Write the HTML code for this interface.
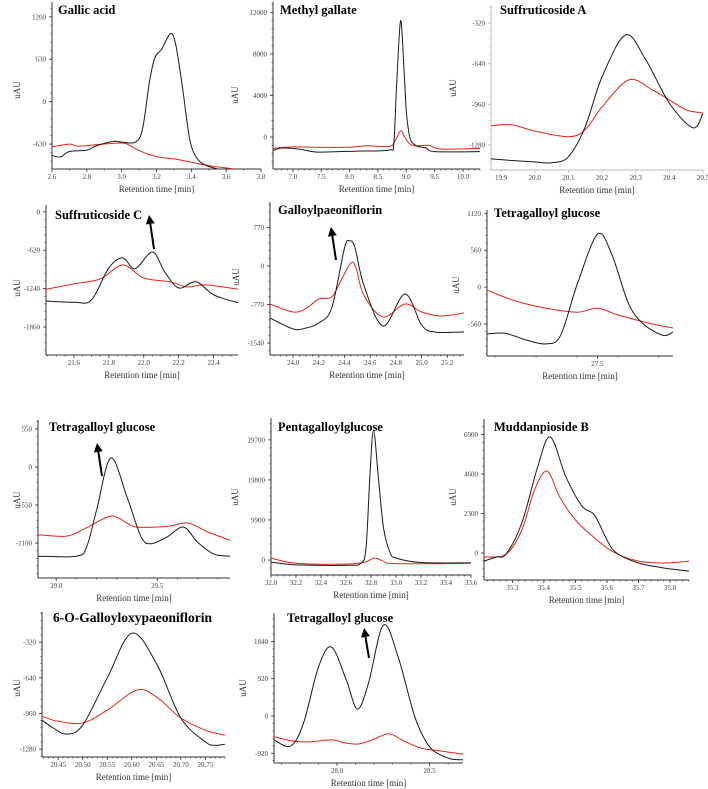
<!DOCTYPE html>
<html><head><meta charset="utf-8">
<style>
html,body{margin:0;padding:0;background:#fff;}
svg{display:block;font-family:"Liberation Serif",serif;}
</style></head>
<body>
<svg id="fig" width="708" height="789" viewBox="0 0 708 789" xmlns="http://www.w3.org/2000/svg"></svg>
<script>
// ---- data (retention time [min], uAU) ----
const p1Black=[[2.6,-800],[2.65,-820],[2.7,-740],[2.8,-720],[2.85,-660],[2.95,-590],[3.0,-600],[3.08,-600],[3.12,-400],[3.16,300],[3.19,650],[3.23,780],[3.28,1010],[3.31,850],[3.35,200],[3.39,-550],[3.43,-830],[3.48,-940],[3.55,-1000]];
const p1Red=[[2.6,-670],[2.7,-630],[2.75,-660],[2.85,-640],[2.95,-620],[3.02,-620],[3.08,-700],[3.15,-780],[3.22,-825],[3.3,-850],[3.4,-900],[3.5,-950],[3.65,-1000]];
const p2Black=[[6.65,-1300],[6.8,-1060],[7.1,-1150],[7.4,-1440],[7.8,-1400],[8.2,-1350],[8.7,-1250],[8.78,-600],[8.83,5000],[8.9,11200],[8.96,6500],[9.0,2500],[9.05,300],[9.1,-500],[9.2,-900],[9.35,-1050],[9.5,-1400],[10.3,-1400]];
const p2Red=[[6.65,-1100],[7.0,-950],[7.5,-1000],[8.0,-980],[8.3,-850],[8.7,-900],[8.8,-400],[8.9,600],[8.97,0],[9.05,-600],[9.15,-850],[9.4,-800],[9.6,-1150],[10.3,-1100]];
const p3Black=[[19.87,-1390],[19.95,-1405],[20.0,-1413],[20.05,-1420],[20.1,-1373],[20.15,-1137],[20.2,-745],[20.27,-414],[20.33,-610],[20.4,-950],[20.47,-1145],[20.5,-1030]];
const p3Red=[[19.87,-1130],[19.93,-1120],[20.0,-1170],[20.1,-1215],[20.15,-1160],[20.2,-980],[20.28,-768],[20.35,-847],[20.4,-925],[20.45,-1004],[20.5,-1028]];
const p4Black=[[21.44,-1440],[21.6,-1460],[21.7,-1425],[21.8,-906],[21.88,-745],[21.95,-920],[22.05,-650],[22.12,-970],[22.2,-1230],[22.3,-1130],[22.4,-1340],[22.54,-1470]];
const p4Red=[[21.44,-1250],[21.6,-1165],[21.75,-1085],[21.88,-860],[22.0,-1070],[22.15,-1130],[22.25,-1215],[22.35,-1180],[22.54,-1250]];
const p5Black=[[23.82,-1040],[24.0,-1260],[24.1,-1240],[24.2,-1140],[24.3,-840],[24.4,360],[24.44,500],[24.48,380],[24.55,-380],[24.7,-1200],[24.87,-560],[25.0,-1180],[25.1,-1320],[25.33,-1320]];
const p5Red=[[23.82,-760],[24.0,-920],[24.1,-850],[24.2,-660],[24.3,-620],[24.37,-300],[24.45,60],[24.49,-40],[24.55,-580],[24.7,-1020],[24.87,-760],[25.0,-920],[25.15,-1000],[25.33,-940]];
const p6Black=[[26.96,-710],[27.05,-700],[27.15,-800],[27.25,-860],[27.32,-730],[27.4,30],[27.5,800],[27.57,500],[27.65,-230],[27.72,-545],[27.82,-730],[27.87,-680]];
const p6Red=[[26.96,-45],[27.1,-210],[27.25,-320],[27.4,-380],[27.5,-320],[27.6,-420],[27.75,-545],[27.87,-620]];
const p7Black=[[28.91,-1290],[29.1,-1290],[29.15,-1160],[29.2,-620],[29.27,130],[29.35,-430],[29.42,-1010],[29.47,-1110],[29.55,-1010],[29.63,-870],[29.7,-1090],[29.78,-1260],[29.86,-1290]];
const p7Red=[[28.91,-980],[29.05,-1000],[29.15,-880],[29.27,-710],[29.35,-810],[29.4,-870],[29.55,-860],[29.65,-810],[29.75,-940],[29.86,-1060]];
const p8Black=[[32.0,-500],[32.2,-1200],[32.6,-1300],[32.72,-800],[32.76,3000],[32.79,20000],[32.82,32000],[32.86,20000],[32.9,8000],[32.95,2000],[33.0,500],[33.2,-600],[33.6,-700]];
const p8Red=[[32.0,500],[32.2,-800],[32.6,-1000],[32.75,-500],[32.83,500],[32.9,-300],[33.0,-900],[33.6,-800]];
const p9Black=[[35.21,-470],[35.25,-230],[35.28,-60],[35.33,1750],[35.38,5000],[35.42,6750],[35.47,4420],[35.52,2740],[35.56,2210],[35.6,760],[35.63,0],[35.7,-580],[35.78,-870],[35.86,-1050]];
const p9Red=[[35.21,-230],[35.28,-60],[35.33,1340],[35.37,3670],[35.41,4770],[35.45,3260],[35.5,1920],[35.55,1050],[35.62,60],[35.7,-470],[35.78,-580],[35.86,-470]];
const p10Black=[[20.417,-1020],[20.44,-1090],[20.467,-1145],[20.5,-1065],[20.55,-640],[20.6,-240],[20.65,-510],[20.7,-1000],[20.75,-1215],[20.77,-1245],[20.79,-1235]];
const p10Red=[[20.417,-985],[20.45,-1030],[20.5,-1045],[20.55,-930],[20.61,-750],[20.65,-810],[20.7,-1000],[20.75,-1110],[20.79,-1155]];
const p11Black=[[27.66,-590],[27.75,-740],[27.82,-170],[27.9,1210],[27.97,1700],[28.05,890],[28.11,170],[28.17,810],[28.25,2240],[28.33,1460],[28.42,-20],[28.5,-760],[28.6,-1040],[28.68,-1080]];
const p11Red=[[27.66,-510],[27.75,-610],[27.85,-640],[27.97,-590],[28.05,-670],[28.12,-690],[28.2,-570],[28.28,-440],[28.35,-590],[28.45,-790],[28.55,-860],[28.68,-940]];

// tick label arrays
const p1XTicks=[2.6,2.8,3.0,3.2,3.4,3.6,3.8], p1YTicks=[1260,630,0,-630];
const p2XTicks=[7.0,7.5,8.0,8.5,9.0,9.5,10.0], p2YTicks=[12000,8000,4000,0];
const p3XTicks=[19.9,20.0,20.1,20.2,20.3,20.4,20.5], p3YTicks=[-320,-640,-960,-1280];
const p4XTicks=[21.6,21.8,22.0,22.2,22.4], p4YTicks=[0,-620,-1240,-1860];
const p5XTicks=[24.0,24.2,24.4,24.6,24.8,25.0,25.2], p5YTicks=[770,0,-770,-1540];
const p6XTicks=[27.5], p6YTicks=[1120,560,0,-560];
const p7XTicks=[29.0,29.5], p7YTicks=[550,0,-550,-1100];
const p8XTicks=[32.0,32.2,32.4,32.6,32.8,33.0,33.2,33.4,33.6], p8YTicks=[29700,19800,9900,0];
const p9XTicks=[35.3,35.4,35.5,35.6,35.7,35.8], p9YTicks=[6900,4600,2300,0];
const p10XTicks=[20.45,20.50,20.55,20.60,20.65,20.70,20.75], p10YTicks=[-320,-640,-960,-1280];
const p11XTicks=[28.0,28.5], p11YTicks=[1840,920,0,-920];

const NS="http://www.w3.org/2000/svg";
const svg=document.getElementById('fig');
function mk(tag,attrs,parent){const e=document.createElementNS(NS,tag);for(const k in attrs)e.setAttribute(k,attrs[k]);(parent||svg).appendChild(e);return e;}
function fmt(v,dec){return dec?v.toFixed(dec):String(v);}

const panels=[
 {id:'gallic-acid',title:'Gallic acid',l:52,r:261,t:2,b:169,x0:2.6,x1:3.8,y0:-1000,y1:1480,xt:p1XTicks,yt:p1YTicks,xd:1,xm:0.1,black:p1Black,red:p1Red,tx:58,ty:14,ux:20,uy:90},
 {id:'methyl-gallate',title:'Methyl gallate',l:273,r:480,t:2,b:169,x0:6.65,x1:10.3,y0:-3080,y1:13000,xt:p2XTicks,yt:p2YTicks,xd:1,xm:0.1,black:p2Black,red:p2Red,tx:280,ty:14,ux:238,uy:95,xfit:[7.0,293,10.0,463]},
 {id:'suffruticoside-a',title:'Suffruticoside A',l:491,r:703,t:5,b:170,x0:19.87,x1:20.5,y0:-1477,y1:-178,xt:p3XTicks,yt:p3YTicks,xd:1,xm:0.1,black:p3Black,red:p3Red,tx:500,ty:14,ux:456,uy:88,noaxis:true},
 {id:'suffruticoside-c',title:'Suffruticoside C',l:46,r:238,t:205,b:355,x0:21.44,x1:22.54,y0:-2313,y1:110,xt:p4XTicks,yt:p4YTicks,xd:1,xm:0.05,black:p4Black,red:p4Red,tx:55,ty:219,ux:20,uy:288,arrow:[154,249,149,215]},
 {id:'galloylpaeoniflorin',title:'Galloylpaeoniflorin',l:270,r:464,t:202,b:355,x0:23.82,x1:25.33,y0:-1780,y1:1280,xt:p5XTicks,yt:p5YTicks,xd:1,xm:0.05,black:p5Black,red:p5Red,tx:278,ty:214,ux:239,uy:277,arrow:[336,260,331,227]},
 {id:'tetragalloyl-glucose-1',title:'Tetragalloyl glucose',l:487,r:673,t:210,b:356,x0:26.96,x1:27.87,y0:-1044,y1:1170,xt:p6XTicks,yt:p6YTicks,xd:1,xm:0.2,xmStart:27.0,black:p6Black,red:p6Red,tx:494,ty:217,ux:459,uy:285},
 {id:'tetragalloyl-glucose-2',title:'Tetragalloyl glucose',l:38,r:230,t:420,b:578,x0:28.91,x1:29.86,y0:-1606,y1:680,xt:p7XTicks,yt:p7YTicks,xd:1,xm:0.1,black:p7Black,red:p7Red,tx:49,ty:431,ux:20,uy:500,arrow:[102,476,97,443]},
 {id:'pentagalloylglucose',title:'Pentagalloylglucose',l:271,r:471,t:418,b:575,x0:32.0,x1:33.6,y0:-3700,y1:35100,xt:p8XTicks,yt:p8YTicks,xd:1,xm:0.05,black:p8Black,red:p8Red,tx:278,ty:431,ux:238,uy:497},
 {id:'muddanpioside-b',title:'Muddanpioside B',l:484,r:689,t:419,b:580,x0:35.21,x1:35.86,y0:-1570,y1:7800,xt:p9XTicks,yt:p9YTicks,xd:1,xm:0.02,black:p9Black,red:p9Red,tx:494,ty:431,ux:456,uy:497},
 {id:'galloyloxypaeoniflorin',title:'6-O-Galloyloxypaeoniflorin',l:42,r:225,t:612,b:757,x0:20.417,x1:20.79,y0:-1350,y1:-50,xt:p10XTicks,yt:p10YTicks,xd:2,xm:0.01,black:p10Black,red:p10Red,tx:53,ty:622,ux:20,uy:688,big:true},
 {id:'tetragalloyl-glucose-3',title:'Tetragalloyl glucose',l:274,r:463,t:613,b:763,x0:27.66,x1:28.68,y0:-1160,y1:2540,xt:p11XTicks,yt:p11YTicks,xd:1,xm:0.1,xmStart:27.7,black:p11Black,red:p11Red,tx:287,ty:622,ux:246,uy:688,arrow:[369,658,364,628]}
];

function catmull(pts){
 let d='M'+pts[0][0].toFixed(1)+','+pts[0][1].toFixed(1);
 for(let i=0;i<pts.length-1;i++){
  const p0=pts[i-1]||pts[i],p1=pts[i],p2=pts[i+1],p3=pts[i+2]||p2;
  const c1=[p1[0]+(p2[0]-p0[0])/6,p1[1]+(p2[1]-p0[1])/6];
  const c2=[p2[0]-(p3[0]-p1[0])/6,p2[1]-(p3[1]-p1[1])/6];
  d+='C'+c1[0].toFixed(1)+','+c1[1].toFixed(1)+' '+c2[0].toFixed(1)+','+c2[1].toFixed(1)+' '+p2[0].toFixed(1)+','+p2[1].toFixed(1);
 }
 return d;
}

panels.forEach((p,idx)=>{
 const g=mk('g',{});
 
 
 const xs=v=>p.l+(v-p.x0)/(p.x1-p.x0)*(p.r-p.l);
 const ys=v=>p.b-(v-p.y0)/(p.y1-p.y0)*(p.b-p.t);
 // clip
 const cp=mk('clipPath',{id:'clip'+idx},g);
 mk('rect',{x:p.l,y:p.t,width:p.r-p.l,height:p.b-p.t},cp);
 // axes
 const axc=p.noaxis?'#bbb':'#333';
 const ya=mk('line',{x1:p.l,y1:p.t,x2:p.l,y2:p.b,stroke:axc,'stroke-width':1},g);
 
 
 const xa=mk('line',{x1:p.l,y1:p.b,x2:p.r,y2:p.b,stroke:axc,'stroke-width':1},g);
 
 
 // y ticks
 const ystep=Math.abs(p.yt[0]-p.yt[1]);
 const ym=ystep/5;
 for(let v=Math.ceil(p.y0/ym)*ym; v<=p.y1; v+=ym){
  const y=ys(v); mk('line',{x1:p.l-1.5,y1:y,x2:p.l,y2:y,stroke:axc,'stroke-width':0.7},g);
 }
 p.yt.forEach(v=>{
  const y=ys(v);
  mk('line',{x1:p.l-3,y1:y,x2:p.l,y2:y,stroke:axc,'stroke-width':0.8},g);
  const t=mk('text',{x:p.l-6,y:y+2.5,'text-anchor':'end','font-size':7,fill:'#444'},g);
  t.textContent=String(v);
  
  
 });
 // x ticks
 const xmStart=p.xmStart!==undefined?p.xmStart:Math.ceil(p.x0/p.xm)*p.xm;
 for(let v=xmStart; v<=p.x1+1e-9; v+=p.xm){
  const x=xs(v); mk('line',{x1:x,y1:p.b,x2:x,y2:p.b+1.5,stroke:axc,'stroke-width':0.7},g);
 }
 p.xt.forEach(v=>{
  const x=xs(v);
  mk('line',{x1:x,y1:p.b,x2:x,y2:p.b+3,stroke:axc,'stroke-width':0.8},g);
  const t=mk('text',{x:x,y:p.b+10,'text-anchor':'middle','font-size':7,fill:'#444'},g);
  t.textContent=fmt(v,p.xd);
  
  
 });
 // axis titles
 const xl=mk('text',{x:(p.l+p.r)/2,y:p.b+23,'text-anchor':'middle','font-size':9,fill:'#333'},g);
 xl.textContent='Retention time [min]';
 
 
 const yl=mk('text',{x:p.ux,y:p.uy,'text-anchor':'middle','font-size':9,fill:'#333',transform:'rotate(-90 '+p.ux+' '+p.uy+')'},g);
 yl.textContent='uAU';
 
 
 // series
 const cg=mk('g',{'clip-path':'url(#clip'+idx+')'},g);
 const rp=mk('path',{d:catmull(p.red.map(d=>[xs(d[0]),ys(d[1])])),fill:'none',stroke:'#e8231f','stroke-width':1},cg);
 
 
 const bp=mk('path',{d:catmull(p.black.map(d=>[xs(d[0]),ys(d[1])])),fill:'none',stroke:'#1a1a1a','stroke-width':1},cg);
 
 
 // title
 const tt=mk('text',{x:p.tx,y:p.ty,'font-size':p.big?13.5:12.5,'font-weight':'bold',fill:'#000'},g);
 tt.textContent=p.title;
 
 
 // arrow
 if(p.arrow){
  const [x1,y1,x2,y2]=p.arrow;
  const ang=Math.atan2(y2-y1,x2-x1);
  const L=9,W=4.5;
  const bx=x2-L*Math.cos(ang),by=y2-L*Math.sin(ang);
  const a=mk('g',{},g);
  
  
  mk('line',{x1:x1,y1:y1,x2:bx,y2:by,stroke:'#000','stroke-width':2},a);
  mk('polygon',{points:[x2,y2,bx+W*Math.sin(ang),by-W*Math.cos(ang),bx-W*Math.sin(ang),by+W*Math.cos(ang)].join(','),fill:'#000'},a);
 }
});
</script>
</body></html>
